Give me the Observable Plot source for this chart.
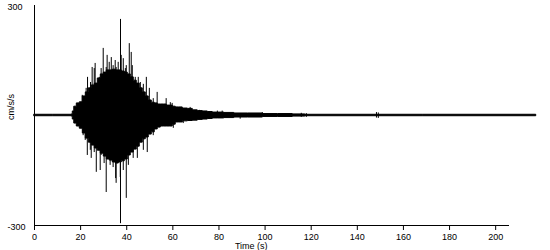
<!DOCTYPE html>
<html>
<head>
<meta charset="utf-8">
<script src="https://cdn.jsdelivr.net/npm/d3@7"></script>
<script src="https://cdn.jsdelivr.net/npm/@observablehq/plot@0.6"></script>
<style>
  html, body { margin: 0; padding: 0; background: #fff; }
</style>
</head>
<body>
<div id="chart"></div>
<script>
// Envelope of the accelerogram (time in s, acceleration in cm/s/s)
const envTime  = [0, 16.0, 16.4, 16.8, 17.7, 19.0, 20.3, 21.6, 22.9, 24.2, 25.5, 26.8, 28.1, 29.4, 30.7, 32.0, 33.3, 34.6, 35.9, 37.2, 38.5, 39.8, 41.1, 42.4, 43.7, 45.0, 46.3, 47.6, 48.9, 50.2, 51.5, 52.8, 54.1, 55.4, 56.7, 58.0, 59.3, 60.6, 61.9, 63.2, 65.4, 67.6, 69.7, 71.9, 74.1, 76.2, 78.4, 80.6, 84.0, 89.3, 95.8, 102.3, 108.8, 115.3, 119.6, 217.6];
const envUpper = [2, 2, 3, 11, 24, 33, 36, 52, 63, 74, 82, 87, 101, 112, 117, 123, 123, 125, 123, 123, 120, 117, 112, 104, 95, 87, 74, 63, 52, 41, 35, 33, 30, 30, 30, 27, 27, 24, 22, 22, 19, 18, 14, 12, 11, 9.5, 8, 8, 7, 5.5, 5.5, 4, 4, 3, 2, 2];
const envLower = [-2, -2, -3, -11, -22, -30, -36, -49, -63, -74, -82, -90, -96, -104, -112, -120, -123, -128, -131, -128, -125, -120, -109, -101, -93, -85, -74, -65, -60, -52, -46, -38, -33, -30, -30, -30, -30, -25, -19, -19, -16, -15, -14, -12, -11, -9.5, -8, -8, -7, -5.5, -5.5, -4, -4, -3, -2, -2];

// Individual peaks sticking out of the envelope
const spikeTime  = [20.7, 22.4, 23.0, 24.3, 25.0, 25.9, 26.3, 28.1, 28.9, 29.8, 31.1, 31.5, 32.4, 33.3, 34.1, 35.0, 35.4, 36.3, 37.3, 37.6, 38.5, 39.4, 39.8, 41.1, 41.95, 42.4, 43.7, 45.0, 45.9, 47.2, 48.5, 49.8, 51.5, 53.2, 57.1, 58.9, 59.7, 67.5, 71.5, 79.3, 81.4, 98.8, 115.7, 117.9, 148.3, 149.1,
                    21.1, 22.0, 22.9, 24.2, 24.6, 25.9, 26.8, 28.5, 28.9, 30.2, 31.1, 32.8, 34.1, 35.2, 35.4, 37.2, 37.3, 38.5, 39.8, 40.7, 42.8, 44.6, 47.2, 48.9, 51.5, 60.2, 64.5, 89.2, 115.7, 117.9, 148.3, 149.1];
const spikeValue = [55, 74, 104, 90, 131, 128, 142, 104, 128, 183, 131, 164, 145, 158, 136, 150, 131, 145, 262, 164, 155, 128, 136, 196, 172, 136, 104, 104, 90, 85, 104, 74, 46, 63, 46, 35, 33, 22, 14, 12, 12, 8, 6, 5, 8, 7,
                    -55, -68, -109, -95, -117, -101, -155, -150, -109, -131, -210, -136, -142, -172, -185, -169, -295, -150, -226, -136, -117, -117, -95, -101, -55, -35, -22, -10, -5, -5, -7, -8];

const xTicks = [0, 20, 40, 60, 80, 100, 120, 140, 160, 180, 200];
const yLabels = [300, -300];
const xTitle = "Time (s)";
const yTitle = "cm/s/s";

const env = envTime.map((t, i) => ({t, hi: envUpper[i], lo: envLower[i]}));
const spikes = spikeTime.map((t, i) => ({t, v: spikeValue[i]}));

const chart = Plot.plot({
  width: 550,
  height: 250,
  marginLeft: 34,
  marginRight: 41,
  marginTop: 5,
  marginBottom: 25,
  style: {fontFamily: "Arial, 'Liberation Sans', sans-serif", fontSize: "9px", background: "white", color: "black"},
  x: {domain: [0, 206]},
  y: {domain: [-300, 300], axis: null},
  marks: [
    Plot.areaY(env, {x: "t", y1: "lo", y2: "hi", fill: "black", stroke: "black", strokeWidth: 1, curve: "step"}),
    Plot.ruleX(spikes, {x: "t", y1: 0, y2: "v", stroke: "black", strokeWidth: 1}),
    Plot.ruleX([0], {stroke: "black"}),
    Plot.ruleY([-300], {stroke: "black"}),
    Plot.axisX({ticks: xTicks, tickSize: 5, tickPadding: 3, label: null, fontSize: 9}),
    Plot.text(yLabels, {y: d => d, text: d => String(d), frameAnchor: "left", textAnchor: "start", dx: -27, dy: 2, fontSize: 9}),
    Plot.text([yTitle], {y: 0, frameAnchor: "left", rotate: -90, dx: -23.5, dy: 4.5, fontSize: 9}),
    Plot.text([xTitle], {x: 94, frameAnchor: "bottom", dy: 23, fontSize: 9})
  ]
});
document.getElementById("chart").appendChild(chart);
</script>
</body>
</html>
